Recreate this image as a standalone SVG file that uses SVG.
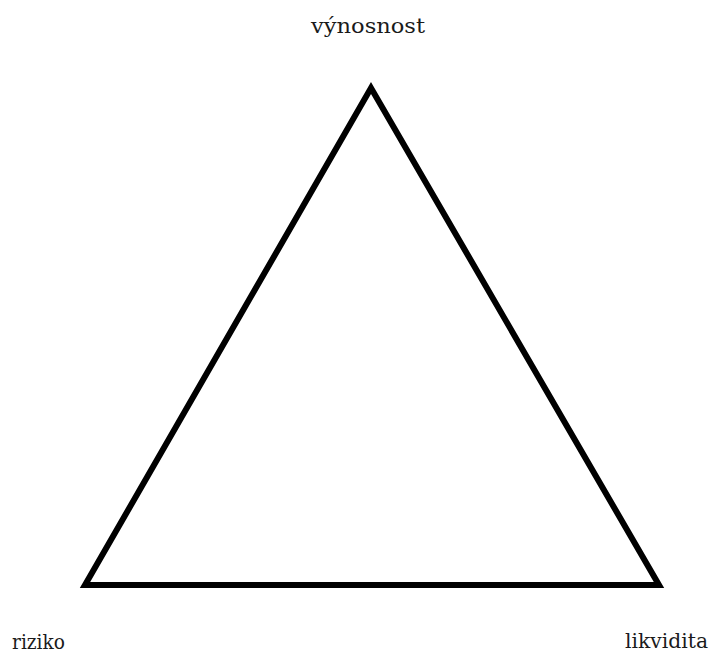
<svg xmlns="http://www.w3.org/2000/svg" width="710" height="655" viewBox="0 0 710 655">
<style>
.lbl{font-family:"DejaVu Serif","Liberation Serif",serif;font-size:20px;fill:#1a1a1a}
.tri{fill:none;stroke:#000;stroke-width:6;stroke-linejoin:miter}
</style>
<rect width="710" height="655" fill="#fff"/>
<g id="connectors">
<polygon class="tri" points="371,88 85,585 659,585"/>
</g>
<g id="vynosnost"><text class="lbl" x="311" y="33" textLength="114" lengthAdjust="spacingAndGlyphs">výnosnost</text></g>
<g id="riziko"><text class="lbl" x="12" y="649" textLength="53" lengthAdjust="spacingAndGlyphs">riziko</text></g>
<g id="likvidita"><text class="lbl" x="625" y="648" textLength="83" lengthAdjust="spacingAndGlyphs">likvidita</text></g>
</svg>
